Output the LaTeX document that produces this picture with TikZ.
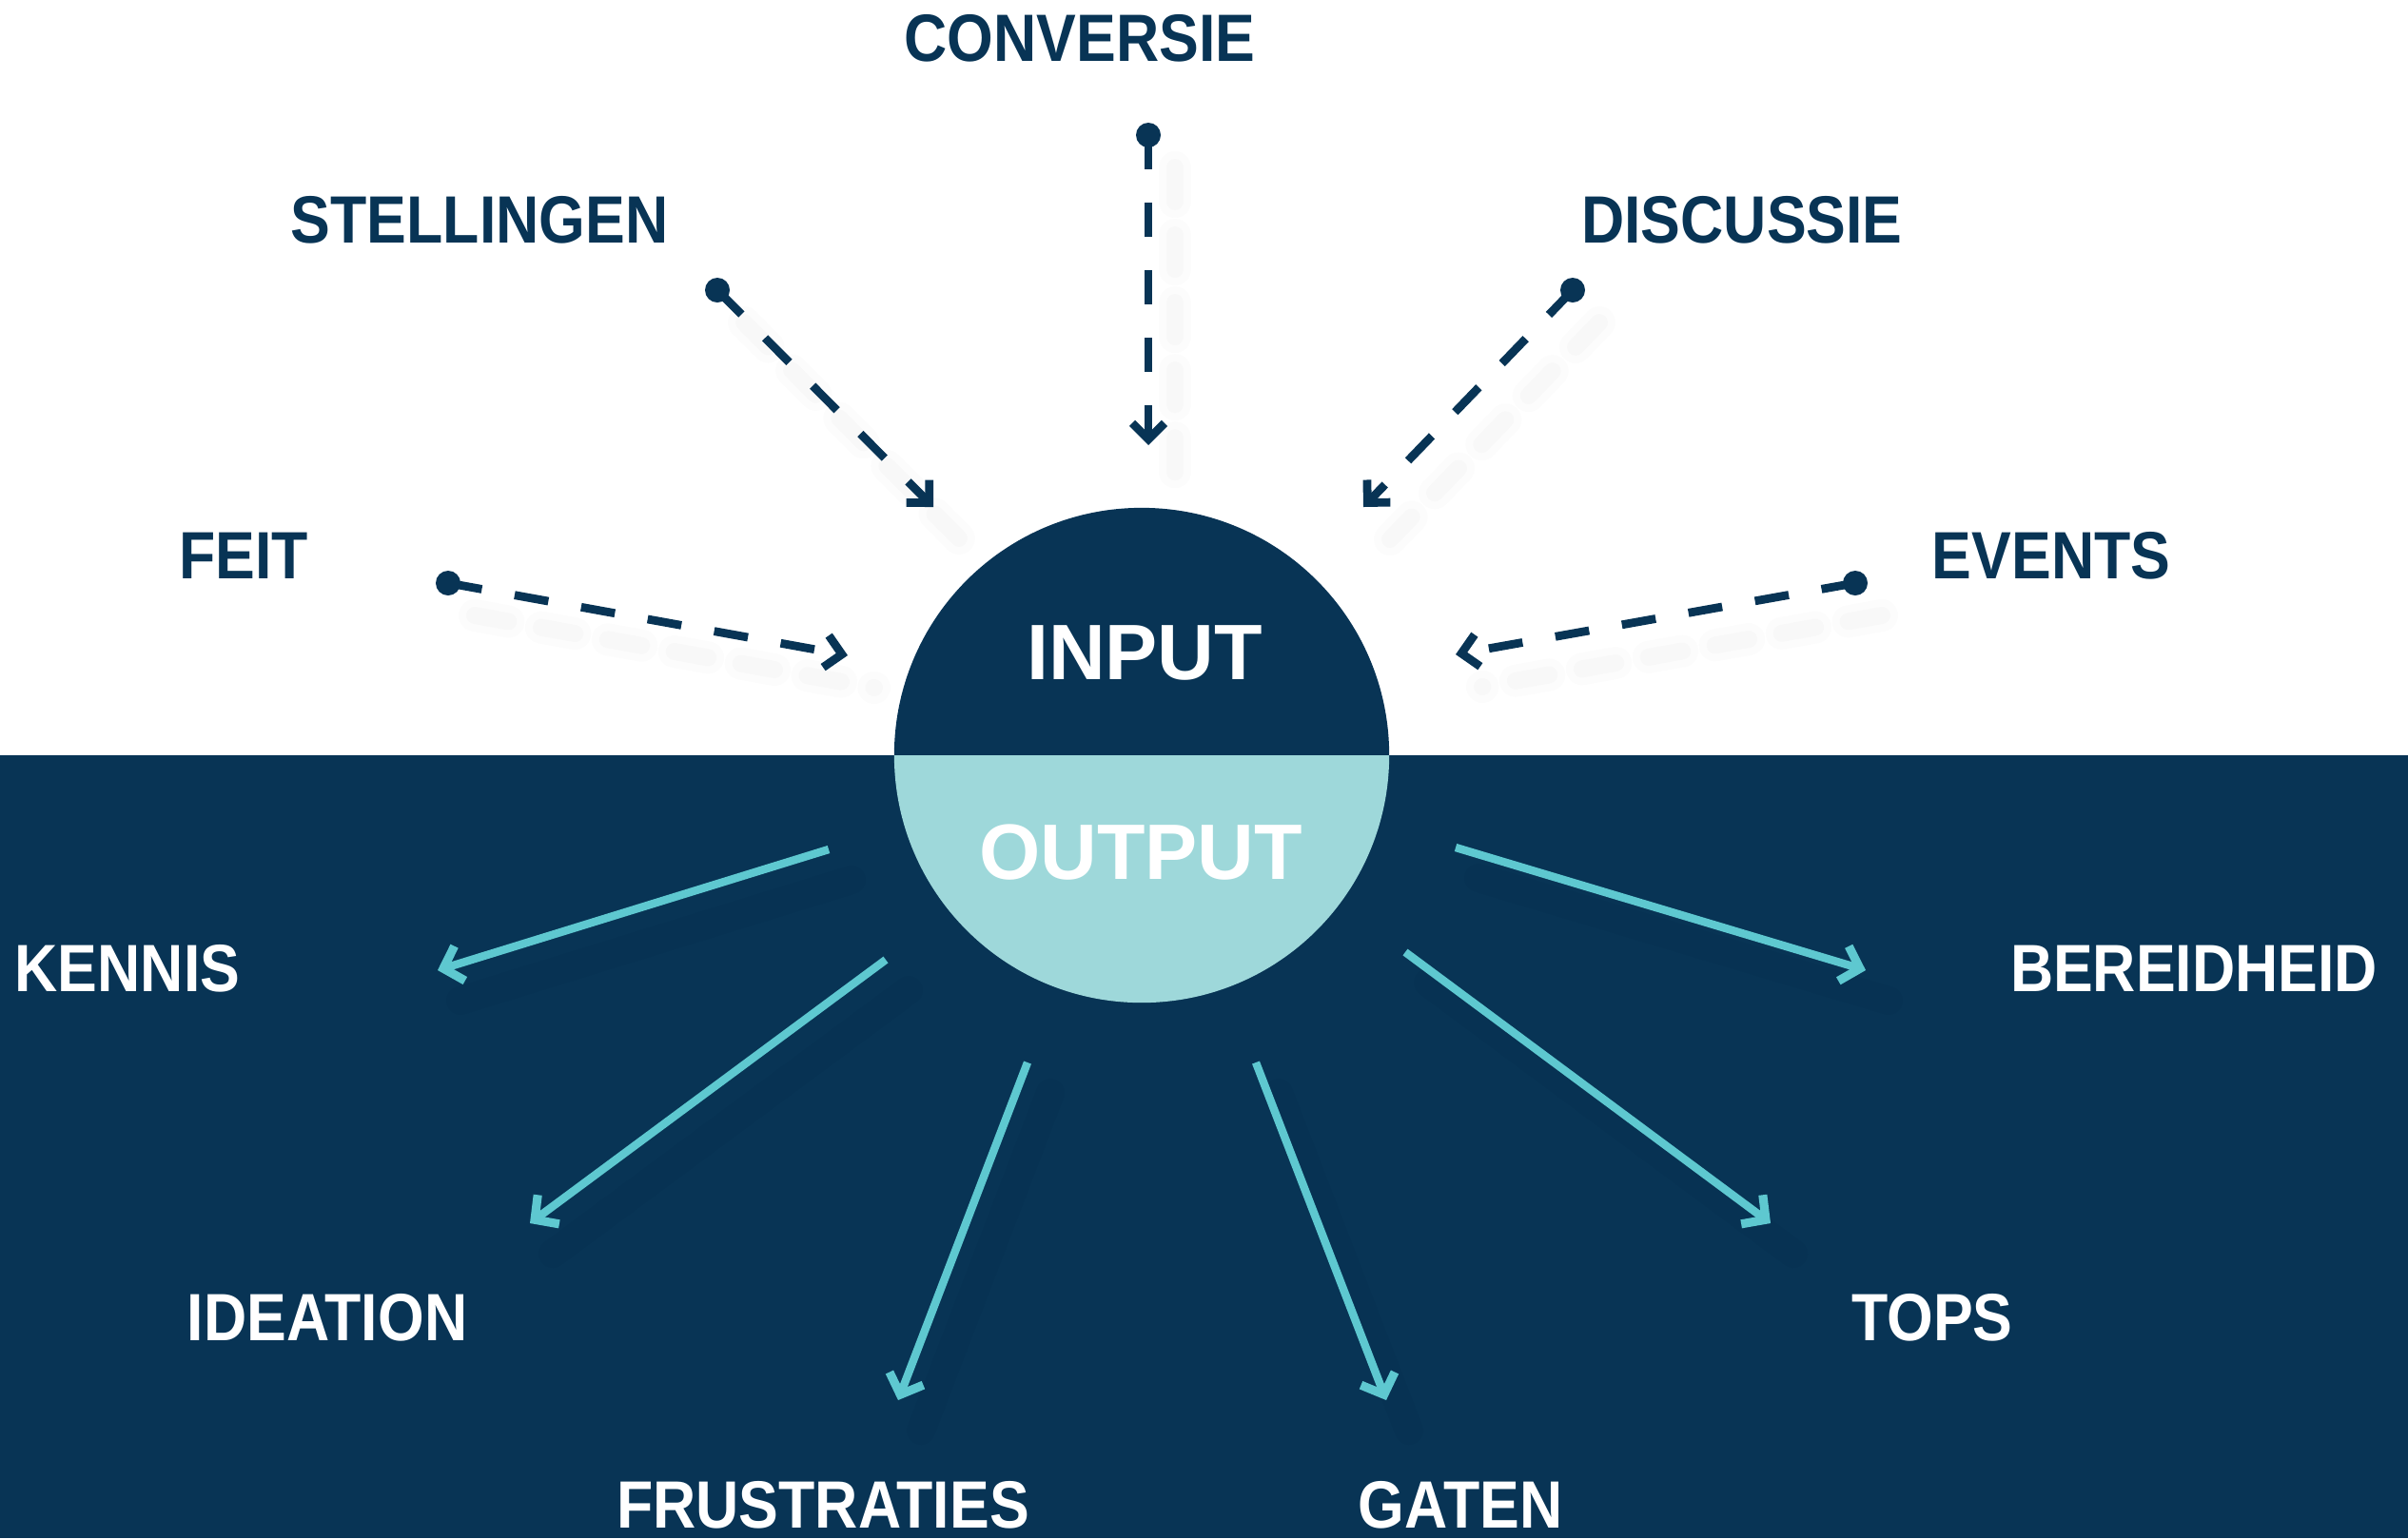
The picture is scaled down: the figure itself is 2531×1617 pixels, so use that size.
\documentclass[tikz,border=0pt]{standalone}
\usepackage{fontspec}
\setmainfont{Liberation Sans}
\usetikzlibrary{arrows.meta}
\definecolor{navy}{RGB}{8,52,85}
\definecolor{paleteal}{RGB}{158,216,218}
\definecolor{arrowteal}{RGB}{94,200,208}
\begin{document}
\begin{tikzpicture}[x=0.01cm,y=-0.01cm,
  lbl/.style={font=\fontsize{20}{24}\selectfont\bfseries, inner sep=0pt, xscale=0.89},
  toplbl/.style={lbl, text=navy},
  botlbl/.style={lbl, text=white},
  hubtxt/.style={font=\fontsize{23.5}{28}\selectfont\bfseries, inner sep=0pt, text=white},
  inarrow/.style={draw=navy, line width=2.5pt, dash pattern=on 0.36cm off 0.35cm,
    -{Straight Barb[length=0.17cm,width=0.34cm,line width=2.5pt,sharp]}},
  outarrow/.style={draw=arrowteal, line width=2.4pt,
    -{Straight Barb[length=0.18cm,width=0.38cm,line width=2.6pt,sharp]}},
  shadowA/.style={draw=black, opacity=0.012, line width=0.34cm, line cap=round, dash pattern=on 0.36cm off 0.35cm},
  shadowB/.style={draw=black, opacity=0.015, line width=0.18cm, line cap=round, dash pattern=on 0.36cm off 0.35cm},
  shadowC/.style={draw=black, opacity=0.025, line width=0.3cm, line cap=round},
  dot/.style={fill=navy}
]
\useasboundingbox (0,0) rectangle (2531,1617);
% background
\fill[white] (0,0) rectangle (2531,794);
\fill[navy] (0,794) rectangle (2531,1617);

% hub
\node[circle, minimum size=5.2cm, inner sep=0pt] (hub) at (1200,794) {};
\fill[navy] (hub.center) circle (2.6cm);
\begin{scope}
  \clip (0,794) rectangle (2531,1617);
  \fill[paleteal] (hub.center) circle (2.6cm);
\end{scope}
\node[hubtxt] (in) at (1203,686) {INPUT};
\node[hubtxt] (out) at (1199,896) {OUTPUT};

% input endpoints
\coordinate (sFEIT) at (471,613);   \coordinate (tFEIT) at (891,689);
\coordinate (sSTEL) at (754,305);   \coordinate (tSTEL) at (981,533);
\coordinate (sCONV) at (1207,142);  \coordinate (tCONV) at (1207,468);
\coordinate (sDISC) at (1653,305);  \coordinate (tDISC) at (1433,533);
\coordinate (sEVEN) at (1950,613);  \coordinate (tEVEN) at (1530,688);

% shadows of input arrows
\foreach \s/\t in {sFEIT/tFEIT, sSTEL/tSTEL, sCONV/tCONV, sDISC/tDISC, sEVEN/tEVEN}{
  \draw[shadowA] ([shift={(28,34)}]\s) -- ([shift={(28,34)}]\t);
  \draw[shadowB] ([shift={(28,34)}]\s) -- ([shift={(28,34)}]\t);
}

% input arrows
\foreach \s/\t in {sFEIT/tFEIT, sSTEL/tSTEL, sCONV/tCONV, sDISC/tDISC, sEVEN/tEVEN}{
  \draw[inarrow] (\s) -- (\t);
  \fill[dot] (\s) circle (0.13cm);
}

% output endpoints
\coordinate (sKEN) at (871,893);   \coordinate (tKEN) at (460,1020);
\coordinate (sIDE) at (931,1009);  \coordinate (tIDE) at (557,1286);
\coordinate (sFRU) at (1080,1117); \coordinate (tFRU) at (944,1472);
\coordinate (sGAT) at (1320,1117); \coordinate (tGAT) at (1457,1472);
\coordinate (sTOP) at (1477,1001); \coordinate (tTOP) at (1861,1286);
\coordinate (sBER) at (1530,891);  \coordinate (tBER) at (1961,1020);

\foreach \s/\t in {sKEN/tKEN, sIDE/tIDE, sFRU/tFRU, sGAT/tGAT, sTOP/tTOP, sBER/tBER}{
  \draw[shadowC] ([shift={(24,32)}]\s) -- ([shift={(24,32)}]\t);
}
\foreach \s/\t in {sKEN/tKEN, sIDE/tIDE, sFRU/tFRU, sGAT/tGAT, sTOP/tTOP, sBER/tBER}{
  \draw[outarrow] (\s) -- (\t);
}

% labels
\node[toplbl] (conversie) at (1135,40) {CONVERSIE};
\node[toplbl] (stellingen) at (504,231) {STELLINGEN};
\node[toplbl] (discussie) at (1831,231) {DISCUSSIE};
\node[toplbl] (feit) at (256,584) {FEIT};
\node[toplbl] (events) at (2156,584) {EVENTS};
\node[botlbl] (kennis) at (134,1018) {KENNIS};
\node[botlbl] (bereidheid) at (2306,1018) {BEREIDHEID};
\node[botlbl] (ideation) at (344,1385) {IDEATION};
\node[botlbl] (tops) at (2031,1385) {TOPS};
\node[botlbl] (frustraties) at (865,1582) {FRUSTRATIES};
\node[botlbl] (gaten) at (1535,1582) {GATEN};
\end{tikzpicture}
\end{document}
